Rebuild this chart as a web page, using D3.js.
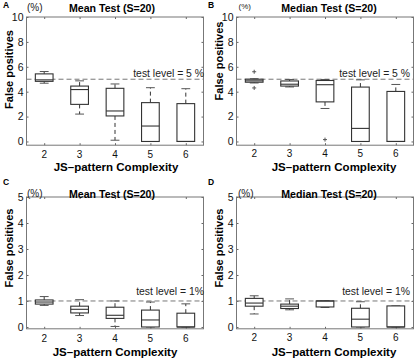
<!DOCTYPE html>
<html>
<head>
<meta charset="utf-8">
<script src="https://cdn.jsdelivr.net/npm/d3@7"></script>
<style>
  body { margin: 0; background: #fff; }
  svg { font-family: "Liberation Sans", Arial, sans-serif; }
</style>
</head>
<body>
<div id="chart"></div>
<script>
// x categories
const complexity = [2, 3, 4, 5, 6]

// five-number summaries per category: [low whisker, q1, median, q3, high whisker]
const meanTest5 = [
    [4.68, 4.83, 4.95, 5.43, 5.62],
    [2.2, 2.98, 4.17, 4.45, 4.87],
    [0.1, 2.05, 2.45, 4.27, 4.62],
    [0, 0, 1.24, 3.12, 4.32],
    [0, 0, 0, 3.04, 4.24]
]
const medianTest5 = [
    [4.7, 4.76, 4.87, 5.0, 5.04],
    [4.38, 4.45, 4.6, 4.86, 4.98],
    [2.65, 3.18, 4.56, 4.9, 4.98],
    [0, 0, 1.05, 4.37, 4.95],
    [0, 0, 0, 4.02, 4.58]
]
const medianTest5Outliers = [[5.6, 4.3], [], [0.15], [], []]
const meanTest1 = [
    [0.83, 0.88, 0.96, 1.04, 1.17],
    [0.44, 0.54, 0.68, 0.8, 1.05],
    [0.02, 0.33, 0.45, 0.76, 1.0],
    [0, 0, 0.27, 0.65, 0.96],
    [0, 0, 0, 0.53, 0.89]
]
const medianTest1 = [
    [0.5, 0.8, 0.92, 1.1, 1.2],
    [0.66, 0.71, 0.8, 0.88, 1.08],
    [0.75, 0.77, 1.0, 1.0, 1.0],
    [0, 0, 0.3, 0.72, 0.97],
    [0, 0, 0, 0.81, 0.81]
]

const yTicks10 = [0, 2, 4, 6, 8, 10]
const yTicks5 = [0, 1, 2, 3, 4, 5]

const panels = [
    {letter: "A", title: "Mean Test (S=20)", stats: meanTest5, outliers: null, ticks: yTicks10,
     ylim: [-0.3, 10], level: 5, levelText: "test level = 5 %",
     x0: 26.5, x1: 203.5, y0: 145.2, y1: 17, titleX: 112, titleY: 11.5, levelX: 204, levelY: 76.5,
     ylabY: 69.5, ylabX: 12.5, xlabX: 116, xlabY: 170.5, tickY: 157.5, pctX: 27, pctY: 11, pctSize: 10,
     letX: 3, letY: 7.5},
    {letter: "B", title: "Median Test (S=20)", stats: medianTest5, outliers: medianTest5Outliers, ticks: yTicks10,
     ylim: [-0.3, 10], level: 5, levelText: "test level = 5 %",
     x0: 236.5, x1: 413.5, y0: 145.2, y1: 17, titleX: 329, titleY: 12, levelX: 410, levelY: 77,
     ylabY: 61, ylabX: 223, xlabX: 334, xlabY: 171, tickY: 157, pctX: 238.5, pctY: 8.5, pctSize: 8,
     letX: 208, letY: 7.5},
    {letter: "C", title: "Mean Test (S=20)", stats: meanTest1, outliers: null, ticks: yTicks5,
     ylim: [-0.07, 5], level: 1, levelText: "test level = 1%",
     x0: 26.5, x1: 203.5, y0: 328.8, y1: 197, titleX: 112, titleY: 197.5, levelX: 204, levelY: 294.5,
     ylabY: 248, ylabX: 12.5, xlabX: 115, xlabY: 355.5, tickY: 341.5, pctX: 27, pctY: 197, pctSize: 10,
     letX: 3, letY: 185},
    {letter: "D", title: "Median Test (S=20)", stats: medianTest1, outliers: null, ticks: yTicks5,
     ylim: [-0.07, 5], level: 1, levelText: "test level = 1%",
     x0: 236.5, x1: 413.5, y0: 328.8, y1: 197, titleX: 329, titleY: 197.5, levelX: 410, levelY: 294.5,
     ylabY: 248, ylabX: 223, xlabX: 334, xlabY: 355.5, tickY: 340.5, pctX: 238, pctY: 197, pctSize: 10,
     letX: 208, letY: 185}
]

const svg = d3.select("#chart").append("svg")
              .attr("width", 416)
              .attr("height", 358)

function drawPanel(p) {
    const g = svg.append("g")
    const x = d3.scaleLinear().domain([1.5, 6.5]).range([p.x0, p.x1])
    const y = d3.scaleLinear().domain(p.ylim).range([p.y0, p.y1])
    const boxW = 0.5 * (x(3) - x(2))
    const capW = boxW / 2

    // axes with inward ticks (left / bottom with labels, top / right plain)
    g.append("g")
     .attr("transform", `translate(${p.x0},0)`)
     .call(d3.axisLeft(y).tickValues(p.ticks).tickFormat(d3.format("d")).tickSize(-2).tickPadding(3))
     .call(a => a.select(".domain").remove())
     .call(a => a.selectAll("text").attr("font-size", "10.5px").attr("fill", "#111"))
    g.append("g")
     .attr("transform", `translate(${p.x1},0)`)
     .call(d3.axisRight(y).tickValues(p.ticks).tickSize(-2).tickFormat(""))
     .call(a => a.select(".domain").remove())
    g.append("g")
     .attr("transform", `translate(0,${p.y0})`)
     .call(d3.axisBottom(x).tickValues(complexity).tickSize(-2).tickFormat(""))
     .call(a => a.select(".domain").remove())
    g.append("g")
     .attr("transform", `translate(0,${p.y1})`)
     .call(d3.axisTop(x).tickValues(complexity).tickSize(-2).tickFormat(""))
     .call(a => a.select(".domain").remove())
    g.selectAll(".tick line").attr("stroke", "#666")

    g.selectAll(".xlab")
     .data(complexity)
     .join("text")
     .attr("x", d => x(d))
     .attr("y", p.tickY)
     .attr("text-anchor", "middle")
     .attr("font-size", "10px")
     .attr("fill", "#111")
     .text(d => d)

    g.append("rect")
     .attr("x", p.x0)
     .attr("y", p.y1)
     .attr("width", p.x1 - p.x0)
     .attr("height", p.y0 - p.y1)
     .attr("fill", "none")
     .attr("stroke", "#777")
     .attr("stroke-width", 1)

    // test level line
    g.append("line")
     .attr("x1", p.x0)
     .attr("x2", p.x1)
     .attr("y1", y(p.level))
     .attr("y2", y(p.level))
     .attr("stroke", "#777")
     .attr("stroke-width", 1)
     .attr("stroke-dasharray", "5,3")
    g.append("text")
     .attr("x", p.levelX)
     .attr("y", p.levelY)
     .attr("text-anchor", "end")
     .attr("font-size", "10.4px")
     .attr("fill", "#222")
     .text(p.levelText)

    // boxes
    const boxes = g.append("g")
                   .selectAll("g")
                   .data(p.stats.map((s, i) => ({c: complexity[i], s: s, o: p.outliers ? p.outliers[i] : []})))
                   .join("g")
    boxes.append("line")
         .attr("x1", d => x(d.c))
         .attr("x2", d => x(d.c))
         .attr("y1", d => y(d.s[3]))
         .attr("y2", d => y(d.s[4]))
         .attr("stroke", "#333")
         .attr("stroke-dasharray", "4,3")
    boxes.append("line")
         .attr("x1", d => x(d.c))
         .attr("x2", d => x(d.c))
         .attr("y1", d => y(d.s[1]))
         .attr("y2", d => y(d.s[0]))
         .attr("stroke", "#333")
         .attr("stroke-dasharray", "4,3")
    boxes.selectAll(".cap")
         .data(d => [d.s[0], d.s[4]].map(v => ({c: d.c, v: v})))
         .join("line")
         .attr("x1", d => x(d.c) - capW / 2)
         .attr("x2", d => x(d.c) + capW / 2)
         .attr("y1", d => y(d.v))
         .attr("y2", d => y(d.v))
         .attr("stroke", "#555")
    boxes.append("rect")
         .attr("x", d => x(d.c) - boxW / 2)
         .attr("y", d => y(d.s[3]))
         .attr("width", boxW)
         .attr("height", d => Math.max(y(d.s[1]) - y(d.s[3]), 0.5))
         .attr("fill", "#fff")
         .attr("stroke", "#333")
         .attr("stroke-width", 1.1)
    boxes.append("line")
         .attr("x1", d => x(d.c) - boxW / 2)
         .attr("x2", d => x(d.c) + boxW / 2)
         .attr("y1", d => y(d.s[2]))
         .attr("y2", d => y(d.s[2]))
         .attr("stroke", "#333")
         .attr("stroke-width", 1.1)
    boxes.selectAll(".out")
         .data(d => d.o.map(v => ({c: d.c, v: v})))
         .join("path")
         .attr("d", d => `M${x(d.c) - 2},${y(d.v)}h4M${x(d.c)},${y(d.v) - 2}v4`)
         .attr("stroke", "#555")

    // labels
    g.append("text")
     .attr("x", p.titleX)
     .attr("y", p.titleY)
     .attr("text-anchor", "middle")
     .attr("font-size", "10.6px")
     .attr("font-weight", "bold")
     .text(p.title)
    g.append("text")
     .attr("transform", `translate(${p.ylabX},${p.ylabY}) rotate(-90)`)
     .attr("text-anchor", "middle")
     .attr("font-size", "11px")
     .attr("font-weight", "bold")
     .text("False positives")
    g.append("text")
     .attr("x", p.xlabX)
     .attr("y", p.xlabY)
     .attr("text-anchor", "middle")
     .attr("font-size", "11.5px")
     .attr("font-weight", "bold")
     .text("JS\u2013pattern Complexity")
    g.append("text")
     .attr("x", p.pctX)
     .attr("y", p.pctY)
     .attr("font-size", p.pctSize + "px")
     .attr("fill", "#222")
     .text("(%)")
    g.append("text")
     .attr("x", p.letX)
     .attr("y", p.letY)
     .attr("font-size", "8.5px")
     .attr("font-weight", "bold")
     .text(p.letter)
}

panels.forEach(drawPanel)
</script>
</body>
</html>
